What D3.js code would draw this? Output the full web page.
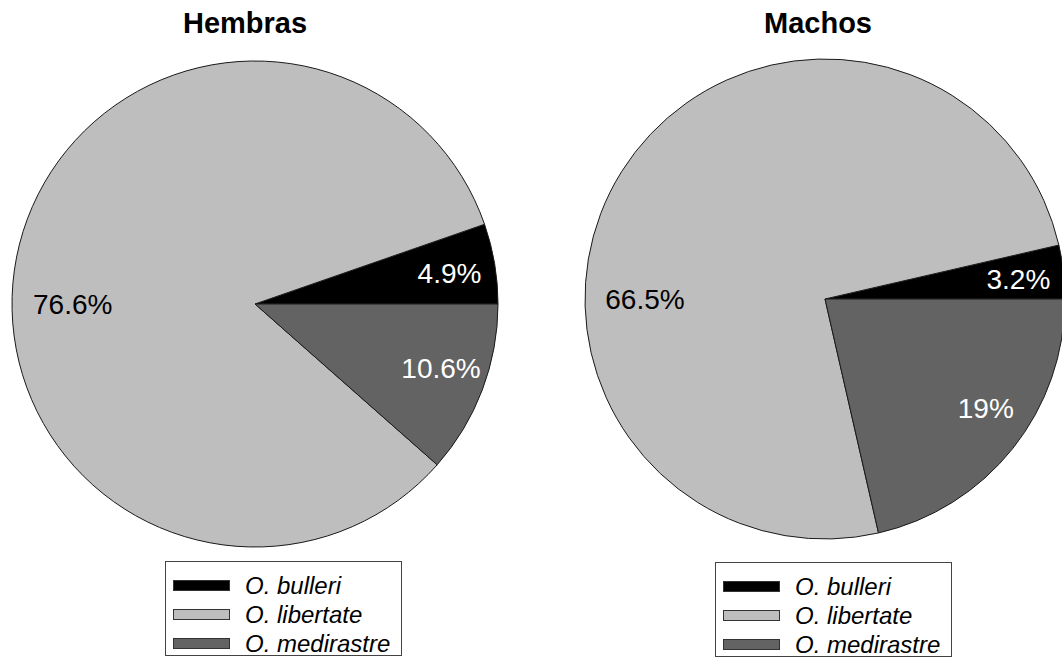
<!DOCTYPE html>
<html>
<head>
<meta charset="utf-8">
<script src="https://cdn.jsdelivr.net/npm/d3@7"></script>
<style>
  body { margin: 0; background: #fff; }
  svg { display: block; font-family: "Liberation Sans", Arial, sans-serif; }
</style>
</head>
<body>
<svg id="chart" width="1062" height="667"></svg>
<script>
const species = ["O. bulleri", "O. libertate", "O. medirastre"];
const hembrasValues = [4.9, 76.6, 10.6];
const machosValues = [3.2, 66.5, 19];
const panelTitles = ["Hembras", "Machos"];
const sliceColors = ["#000000", "#bebebe", "#636363"];
const labelColors = ["#ffffff", "#000000", "#ffffff"];

const svg = d3.select("#chart");
const color = d3.scaleOrdinal().domain(species).range(sliceColors);
const labelColor = d3.scaleOrdinal().domain(species).range(labelColors);

const panels = [
  { title: panelTitles[0], values: hembrasValues, cx: 255, cy: 304, r: 243, titleX: 245, legendX: 165, legendY: 561 },
  { title: panelTitles[1], values: machosValues, cx: 825, cy: 299, r: 240, titleX: 818, legendX: 715, legendY: 562 }
];

// slices start at 3 o'clock and run counter-clockwise
const pie = d3.pie().sort(null)
  .startAngle(Math.PI / 2)
  .endAngle(Math.PI / 2 - 2 * Math.PI);

panels.forEach(p => {
  const data = species.map((s, i) => ({ name: s, value: p.values[i] }));
  const arcs = pie.value(d => d.value)(data);
  const arc = d3.arc().innerRadius(0).outerRadius(p.r);
  const g = svg.append("g").attr("transform", `translate(${p.cx},${p.cy})`);

  g.selectAll("path").data(arcs).enter().append("path")
    .attr("d", arc)
    .attr("fill", d => color(d.data.name))
    .attr("stroke", "#1a1a1a")
    .attr("stroke-width", 1);

  // label angles follow the stated percentages (out of 100)
  const pctAngle = d3.scaleLinear().domain([0, 100]).range([0, 2 * Math.PI]);
  g.selectAll("text.lbl").data(arcs).enter().append("text")
    .attr("class", "lbl")
    .attr("transform", (d, i) => {
      const big = d.data.name === species[1];
      let mid;
      if (big) mid = -Math.PI / 2;
      else if (i === 0) mid = Math.PI / 2 - pctAngle(d.data.value / 2);
      else mid = Math.PI / 2 + pctAngle(d.data.value / 2);
      const rr = big ? p.r * 0.75 : p.r * 0.81;
      return `translate(${rr * Math.sin(mid)},${-rr * Math.cos(mid)})`;
    })
    .attr("text-anchor", "middle")
    .attr("dominant-baseline", "central")
    .attr("font-size", 28)
    .attr("fill", d => labelColor(d.data.name))
    .text(d => d.data.value + "%");

  svg.append("text")
    .attr("x", p.titleX).attr("y", 33)
    .attr("text-anchor", "middle")
    .attr("font-size", 29)
    .attr("font-weight", "bold")
    .attr("fill", "#000")
    .text(p.title);

  const lg = svg.append("g").attr("transform", `translate(${p.legendX},${p.legendY})`);
  lg.append("rect")
    .attr("x", 0.5).attr("y", 0.5)
    .attr("width", 236).attr("height", 94)
    .attr("fill", "#fff")
    .attr("stroke", "#444").attr("stroke-width", 1);
  const rows = lg.selectAll("g.row").data(species).enter().append("g")
    .attr("class", "row")
    .attr("transform", (d, i) => `translate(0,${24 + i * 29})`);
  rows.append("rect")
    .attr("x", 8.5).attr("y", -4.5)
    .attr("width", 56).attr("height", 10)
    .attr("fill", d => color(d))
    .attr("stroke", "#333").attr("stroke-width", 1);
  rows.append("text")
    .attr("x", 80).attr("y", 0)
    .attr("dominant-baseline", "central")
    .attr("font-size", 24)
    .attr("font-style", "italic")
    .attr("fill", "#000")
    .text(d => d);
});
</script>
</body>
</html>
